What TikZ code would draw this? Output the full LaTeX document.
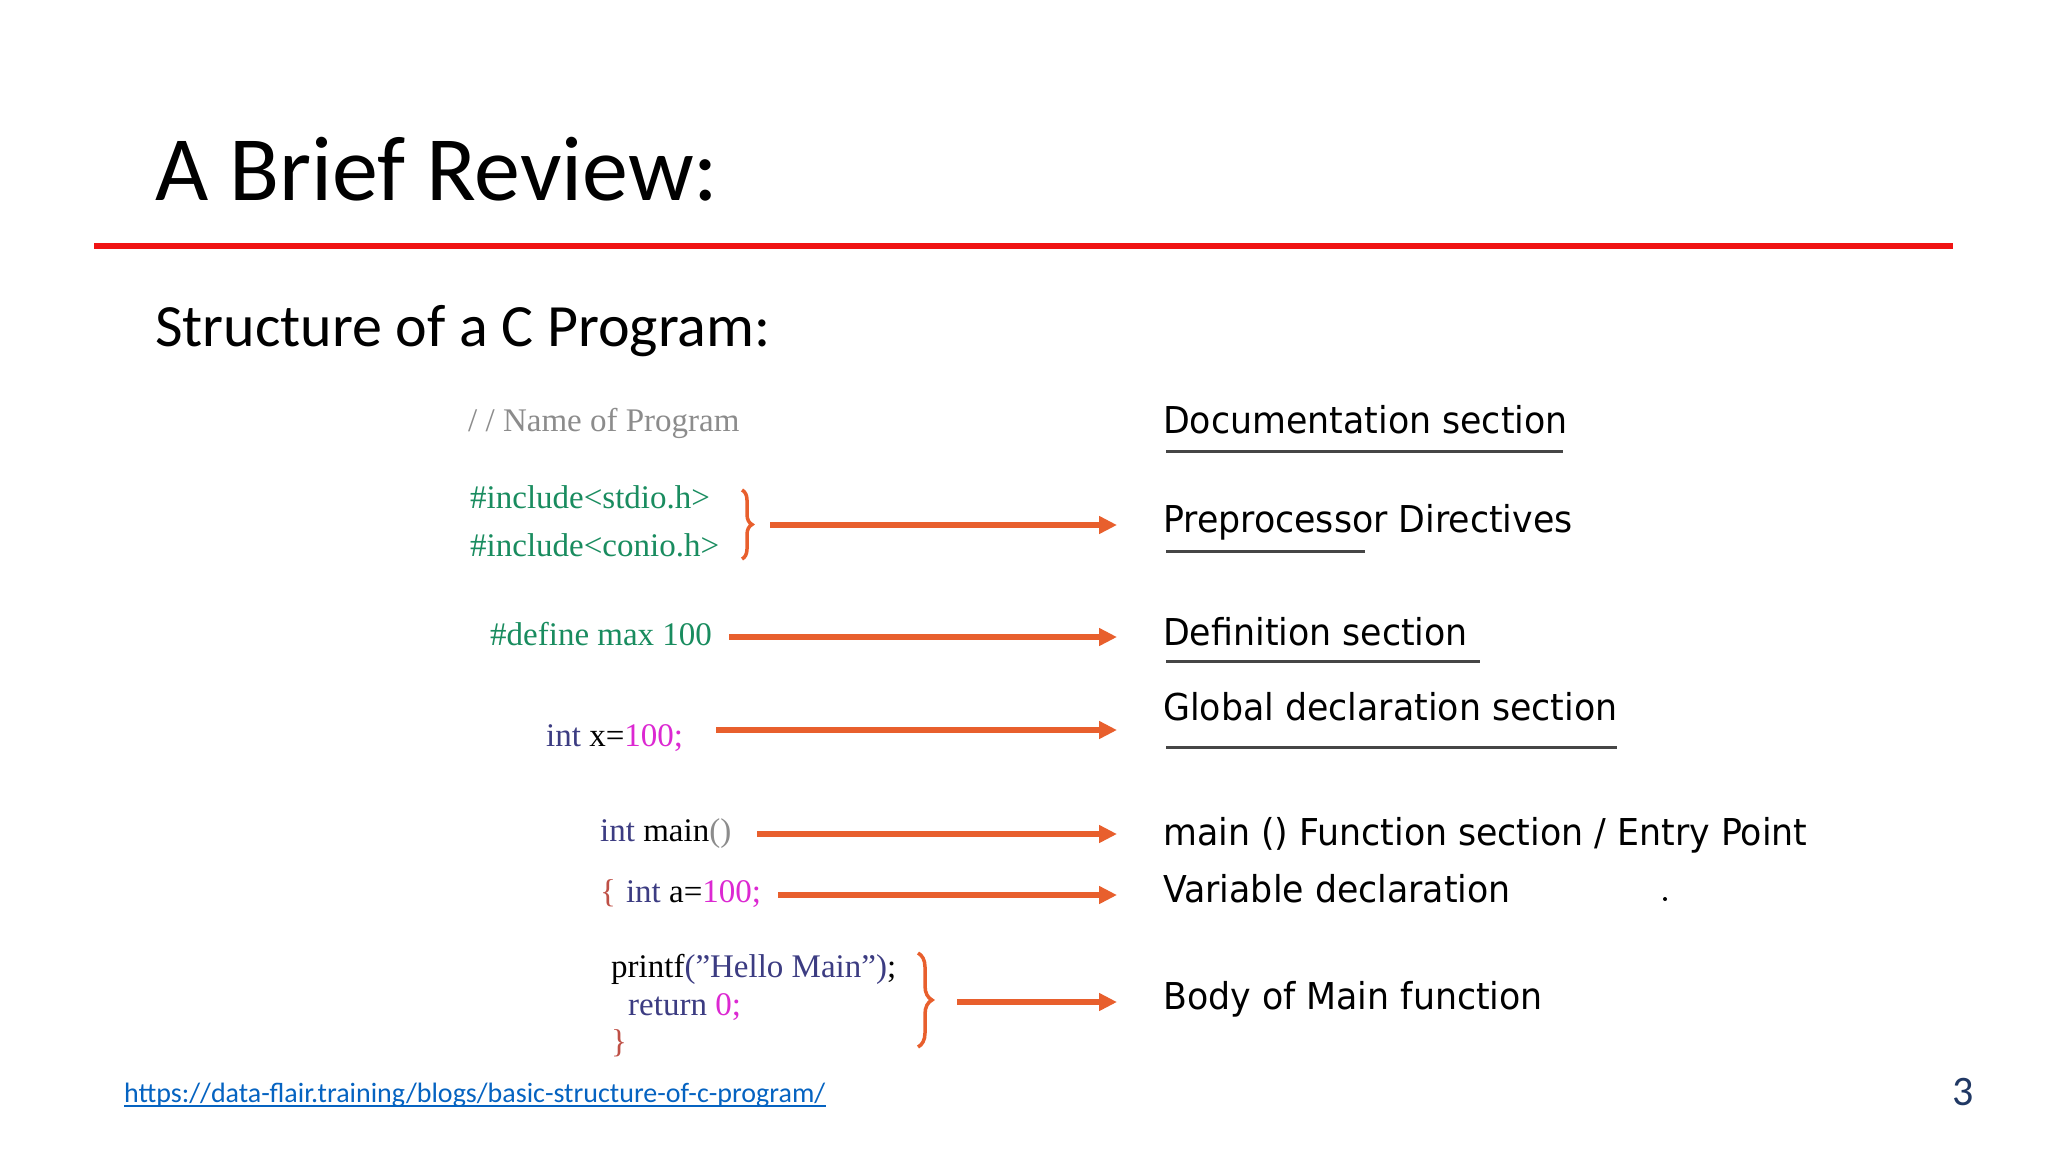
\documentclass[tikz,border=0pt]{standalone}
\usepackage{fontspec}
\setmainfont{Carlito}
\newfontfamily\codefont{Liberation Serif}
\newfontfamily\labfont[FakeStretch=0.94]{DejaVu Sans}
\usetikzlibrary{arrows.meta,decorations.pathreplacing}
\definecolor{titlered}{RGB}{240,20,20}
\definecolor{incgreen}{RGB}{25,140,95}
\definecolor{kwblue}{RGB}{60,60,130}
\definecolor{nummag}{RGB}{220,40,210}
\definecolor{brred}{RGB}{190,80,70}
\definecolor{cmtgray}{RGB}{140,140,140}
\definecolor{arrorange}{RGB}{232,95,45}
\definecolor{linkblue}{RGB}{5,99,193}
\definecolor{pnblue}{RGB}{32,56,100}
\definecolor{ulgray}{RGB}{70,70,70}
\tikzset{
  code/.style={inner sep=0pt, anchor=base west, font=\codefont\fontsize{33}{36}\selectfont},
  lab/.style={inner sep=0pt, anchor=base west, font=\labfont\fontsize{37}{40}\selectfont},
  arr/.style={draw=arrorange, line width=5.5pt, -{Triangle[length=18pt,width=17pt]}},
  brc/.style={draw=arrorange, line width=3.5pt, decorate},
  uline/.style={draw=ulgray, line width=3pt}
}
\begin{document}
\begin{tikzpicture}[x=1pt,y=-1pt]
\useasboundingbox[fill=white] (0,0) rectangle (2048,1152);
% title
\node[inner sep=0pt, anchor=base west, font=\fontsize{92}{100}\selectfont] (title) at (155,200) {A Brief Review:};
\draw[titlered, line width=6pt] (94,246) coordinate (rl) -- (1953,246) coordinate (rr);
\node[inner sep=0pt, anchor=base west, font=\fontsize{60}{66}\selectfont] (sub) at (155,346) {Structure of a C Program:};

% code
\node[code, text=cmtgray] (cmt) at (468,431) {/ / Name of Program};
\node[code, text=incgreen] (inc1) at (470,508) {\#include<stdio.h>};
\node[code, text=incgreen] (inc2) at (470,556) {\#include<conio.h>};
\node[code, text=incgreen] (def) at (490,645) {\#define max 100};
\node[code] (gx) at (546,746) {{\color{kwblue}int} x={\color{nummag}100;}};
\node[code] (mn) at (600,841) {{\color{kwblue}int} main{\color{cmtgray}()}};
\node[code] (va) at (600,902) {{\color{brred}\{}\hspace{10pt}{\color{kwblue}int} a={\color{nummag}100;}};
\node[code] (pf) at (611,977) {printf{\color{kwblue}(”Hello Main”)};};
\node[code] (rt) at (628,1015) {{\color{kwblue}return} {\color{nummag}0;}};
\node[code, text=brred] (cb) at (611,1052) {\}};

% braces
\coordinate (b1t) at (742,490);
\coordinate (b1b) at (742,559);
\draw[brc, decoration={brace, amplitude=10pt}] (b1t) -- (b1b);
\coordinate (b2t) at (918,953);
\coordinate (b2b) at (918,1047);
\draw[brc, decoration={brace, amplitude=14pt}] (b2t) -- (b2b);

% labels
\node[lab] (l1) at (1163,433) {Documentation section};
\node[lab] (l2) at (1163,532) {Preprocessor Directives};
\node[lab] (l3) at (1163,645) {Definition section};
\node[lab] (l4) at (1163,720) {Global declaration section};
\node[lab] (l5) at (1163,845) {main () Function section / Entry Point};
\node[lab] (l6) at (1163,902) {Variable declaration};
\node[lab] (l7) at (1163,1009) {Body of Main function};
\fill[black] (1665,899) circle (2pt);

% underlines
\draw[uline] (1166,451) -- (1563,451);
\draw[uline] (1166,551) -- (1365,551);
\draw[uline] (1166,661) -- (1480,661);
\draw[uline] (1166,747) -- (1617,747);

% arrows
\coordinate (a1s) at (770,525);  \coordinate (a1e) at (1117,525);
\coordinate (a2s) at (729,637);  \coordinate (a2e) at (1117,637);
\coordinate (a3s) at (716,730);  \coordinate (a3e) at (1117,730);
\coordinate (a4s) at (757,834);  \coordinate (a4e) at (1117,834);
\coordinate (a5s) at (778,895);  \coordinate (a5e) at (1117,895);
\coordinate (a6s) at (957,1002); \coordinate (a6e) at (1117,1002);
\draw[arr] (a1s) -- (a1e);
\draw[arr] (a2s) -- (a2e);
\draw[arr] (a3s) -- (a3e);
\draw[arr] (a4s) -- (a4e);
\draw[arr] (a5s) -- (a5e);
\draw[arr] (a6s) -- (a6e);

% footer
\node[inner sep=0pt, anchor=base west, text=linkblue, font=\fontsize{28}{32}\selectfont] (link) at (124,1102) {https://data-flair.training/blogs/basic-structure-of-c-program/};
\draw[linkblue, line width=1.5pt] ([yshift=-4pt]link.base west) -- ([yshift=-4pt]link.base east);
\node[inner sep=0pt, text=pnblue, font=\fontsize{42}{46}\selectfont] (pn) at (1963,1092) {3};
\end{tikzpicture}
\end{document}
